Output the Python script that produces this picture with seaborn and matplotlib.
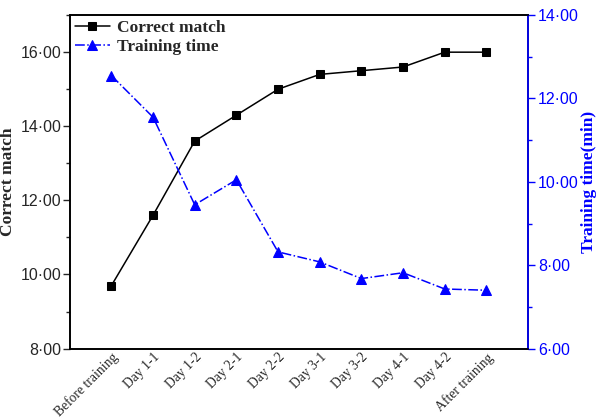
import numpy as np
import matplotlib
matplotlib.use("Agg")
import matplotlib.pyplot as plt
import seaborn as sns
from matplotlib.ticker import FuncFormatter, MultipleLocator

stages = ["Before training", "Day 1-1", "Day 1-2", "Day 2-1", "Day 2-2",
          "Day 3-1", "Day 3-2", "Day 4-1", "Day 4-2", "After training"]
correct_match = [9.7, 11.6, 13.6, 14.3, 15.0, 15.4, 15.5, 15.6, 16.0, 16.0]
training_time = [12.55, 11.55, 9.45, 10.05, 8.32, 8.08, 7.68, 7.82, 7.43, 7.4]

sns.set_style("white")
plt.rcParams["font.family"] = ["Liberation Sans", "DejaVu Sans"]

fig = plt.figure(figsize=(5.96, 4.2), dpi=100)
ax = fig.add_axes([0.117, 0.170, 0.769, 0.794])
ax2 = ax.twinx()

x = np.arange(len(stages))
sns.lineplot(x=x, y=correct_match, ax=ax, color="black", marker="s",
             markersize=6, markeredgecolor="black", linewidth=1.1,
             label="Correct match", legend=False)
sns.lineplot(x=x, y=training_time, ax=ax2, color="blue", marker="^",
             markersize=7, markeredgecolor="blue", linewidth=1.1,
             linestyle="-.", label="Training time", legend=False)

fmt = FuncFormatter(lambda v, p: f"{v:.2f}".replace(".", "\u00b7"))

ax.set_xlim(-1, 10)
ax.set_ylim(8, 17)
ax.yaxis.set_major_locator(MultipleLocator(2))
ax.yaxis.set_minor_locator(MultipleLocator(1))
ax.yaxis.set_major_formatter(fmt)
ax.set_xticks(x)
ax.set_xticklabels(stages, rotation=45, ha="right", rotation_mode="anchor",
                   fontfamily="Liberation Serif", fontsize=9.8)
ax.tick_params(axis="x", direction="in", length=5, width=1, pad=1.5)
ax.tick_params(axis="y", which="major", direction="out", length=5, width=1,
               labelsize=11.5, left=True, pad=1)
ax.tick_params(axis="y", which="minor", direction="out", length=3, width=1,
               left=True)
ax.set_ylabel("Correct match", fontfamily="Liberation Serif",
              fontweight="bold", fontsize=12.5, labelpad=3)

ax2.set_ylim(6, 14)
ax2.yaxis.set_major_locator(MultipleLocator(2))
ax2.yaxis.set_minor_locator(MultipleLocator(1))
ax2.yaxis.set_major_formatter(fmt)
ax2.tick_params(axis="y", which="major", direction="out", length=5, width=1,
                labelsize=11.5, colors="blue", right=True, pad=2)
ax2.tick_params(axis="y", which="minor", direction="out", length=3, width=1,
                colors="blue", right=True)
ax2.set_ylabel("Training time(min)", fontfamily="Liberation Serif",
               fontweight="bold", fontsize=12.5, color="blue", labelpad=2)

for a in (ax, ax2):
    for s in a.spines.values():
        s.set_color("black")
        s.set_linewidth(1.2)
ax2.spines["right"].set_color("blue")

h1, l1 = ax.get_legend_handles_labels()
h2, l2 = ax2.get_legend_handles_labels()
ax.legend(h1 + h2, l1 + l2, loc="upper left", frameon=False,
          prop={"family": "Liberation Serif", "weight": "bold", "size": 12.5},
          borderaxespad=0.1, handlelength=2.0, handletextpad=0.4,
          labelspacing=0.15, borderpad=0.2)

fig.savefig("out.png", dpi=100)
